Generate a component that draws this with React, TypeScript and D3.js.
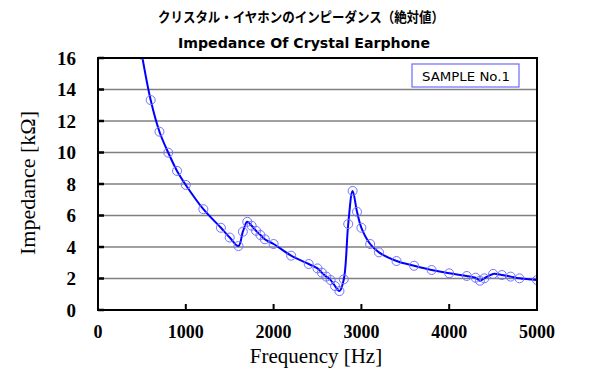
import * as d3 from "d3";

// measured impedance, sample No.1
const freqHz = [
  500, 600, 700, 800, 900, 1000, 1200, 1400, 1500, 1600, 1650, 1700, 1750, 1800,
  1850, 1900, 2000, 2200, 2400, 2500, 2550, 2600, 2650, 2700, 2750, 2800, 2850,
  2900, 2950, 3000, 3100, 3200, 3400, 3600, 3800, 4000, 4200, 4300, 4350, 4400,
  4500, 4600, 4700, 4800, 5000,
];
const impedanceK = [
  16.2, 13.33, 11.32, 9.99, 8.83, 7.94, 6.4, 5.22, 4.6, 4.06, 4.97, 5.6, 5.35,
  5.03, 4.76, 4.49, 4.19, 3.45, 2.92, 2.64, 2.37, 2.12, 1.9, 1.52, 1.2, 1.95,
  5.46, 7.56, 6.24, 5.22, 4.19, 3.66, 3.11, 2.81, 2.54, 2.33, 2.16, 2.05, 1.86,
  2.01, 2.29, 2.22, 2.12, 2.01, 1.9,
];
const xTicks = [0, 1000, 2000, 3000, 4000, 5000];
const yTicks = [0, 2, 4, 6, 8, 10, 12, 14, 16];
const titleJa = "クリスタル・イヤホンのインピーダンス（絶対値）";
const titleEn = "Impedance Of Crystal Earphone";
const legendLabel = "SAMPLE No.1";

const width = 600;
const height = 370;
const left = 98;
const right = 537;
const top = 58;
const bottom = 310;

const x = d3.scaleLinear().domain([0, 5000]).range([left, right]);
const y = d3.scaleLinear().domain([0, 16]).range([bottom, top]);

const App = () => {
  const data = freqHz.map((f, i) => ({ f, z: impedanceK[i] }));
  const line = d3
    .line<{ f: number; z: number }>()
    .x((d) => x(d.f))
    .y((d) => y(d.z))
    .curve(d3.curveCatmullRom.alpha(0.5));

  const serif = "'Liberation Serif', 'DejaVu Serif', serif";

  return (
    <svg
      width={width}
      height={height}
      style={{ position: "absolute", left: 0, top: 0, background: "#fff" }}
    >
      <defs>
        <clipPath id="plot">
          <rect x={left} y={top} width={right - left} height={bottom - top} />
        </clipPath>
      </defs>

      <text
        x={301}
        y={22}
        textAnchor="middle"
        fontFamily="'Noto Sans CJK JP', sans-serif"
        fontWeight="bold"
        fontSize={14}
        textLength={286}
        lengthAdjust="spacingAndGlyphs"
      >
        {titleJa}
      </text>
      <text
        x={304}
        y={48}
        textAnchor="middle"
        fontFamily="'DejaVu Sans', sans-serif"
        fontWeight="bold"
        fontSize={14}
        textLength={252}
        lengthAdjust="spacingAndGlyphs"
      >
        {titleEn}
      </text>

      {/* grid */}
      {yTicks.slice(1, -1).map((t) => (
        <line
          key={t}
          x1={left}
          x2={right}
          y1={y(t)}
          y2={y(t)}
          stroke="#808080"
          strokeWidth={1.5}
        />
      ))}

      {/* ticks */}
      {yTicks.map((t) => (
        <line
          key={"yt" + t}
          x1={left}
          x2={left + 6}
          y1={y(t)}
          y2={y(t)}
          stroke="#000"
          strokeWidth={2.5}
        />
      ))}
      {xTicks.map((t) => (
        <line
          key={"xt" + t}
          x1={x(t)}
          x2={x(t)}
          y1={bottom}
          y2={bottom - 6}
          stroke="#000"
          strokeWidth={2}
        />
      ))}

      <g clipPath="url(#plot)">
        <path d={line(data) ?? ""} fill="none" stroke="#0000ff" strokeWidth={2} />
        {data.map((d, i) => (
          <circle
            key={i}
            cx={x(d.f)}
            cy={y(d.z)}
            r={4.5}
            fill="none"
            stroke="#7373ff"
            strokeWidth={1}
          />
        ))}
      </g>

      <rect
        x={left}
        y={top}
        width={right - left}
        height={bottom - top}
        fill="none"
        stroke="#000"
        strokeWidth={2}
      />

      {yTicks.map((t) => (
        <text
          key={"yl" + t}
          x={76}
          y={y(t)}
          dy="0.35em"
          textAnchor="end"
          fontFamily={serif}
          fontWeight="bold"
          fontSize={19}
        >
          {t}
        </text>
      ))}
      {xTicks.map((t) => (
        <text
          key={"xl" + t}
          x={x(t)}
          y={338}
          textAnchor="middle"
          fontFamily={serif}
          fontWeight="bold"
          fontSize={18}
        >
          {t}
        </text>
      ))}

      <text
        x={316}
        y={363}
        textAnchor="middle"
        fontFamily={serif}
        fontSize={21}
      >
        Frequency [Hz]
      </text>
      <text
        transform={`translate(35,183) rotate(-90)`}
        textAnchor="middle"
        fontFamily={serif}
        fontSize={22}
      >
        Impedance [kΩ]
      </text>

      <rect x={412} y={64} width={107} height={23} fill="#fff" stroke="#6b6bff" strokeWidth={1.2} />
      <text
        x={466}
        y={81}
        textAnchor="middle"
        fontFamily="'DejaVu Sans', sans-serif"
        fontSize={13}
        textLength={88}
        lengthAdjust="spacingAndGlyphs"
      >
        {legendLabel}
      </text>
    </svg>
  );
};

export default App;
